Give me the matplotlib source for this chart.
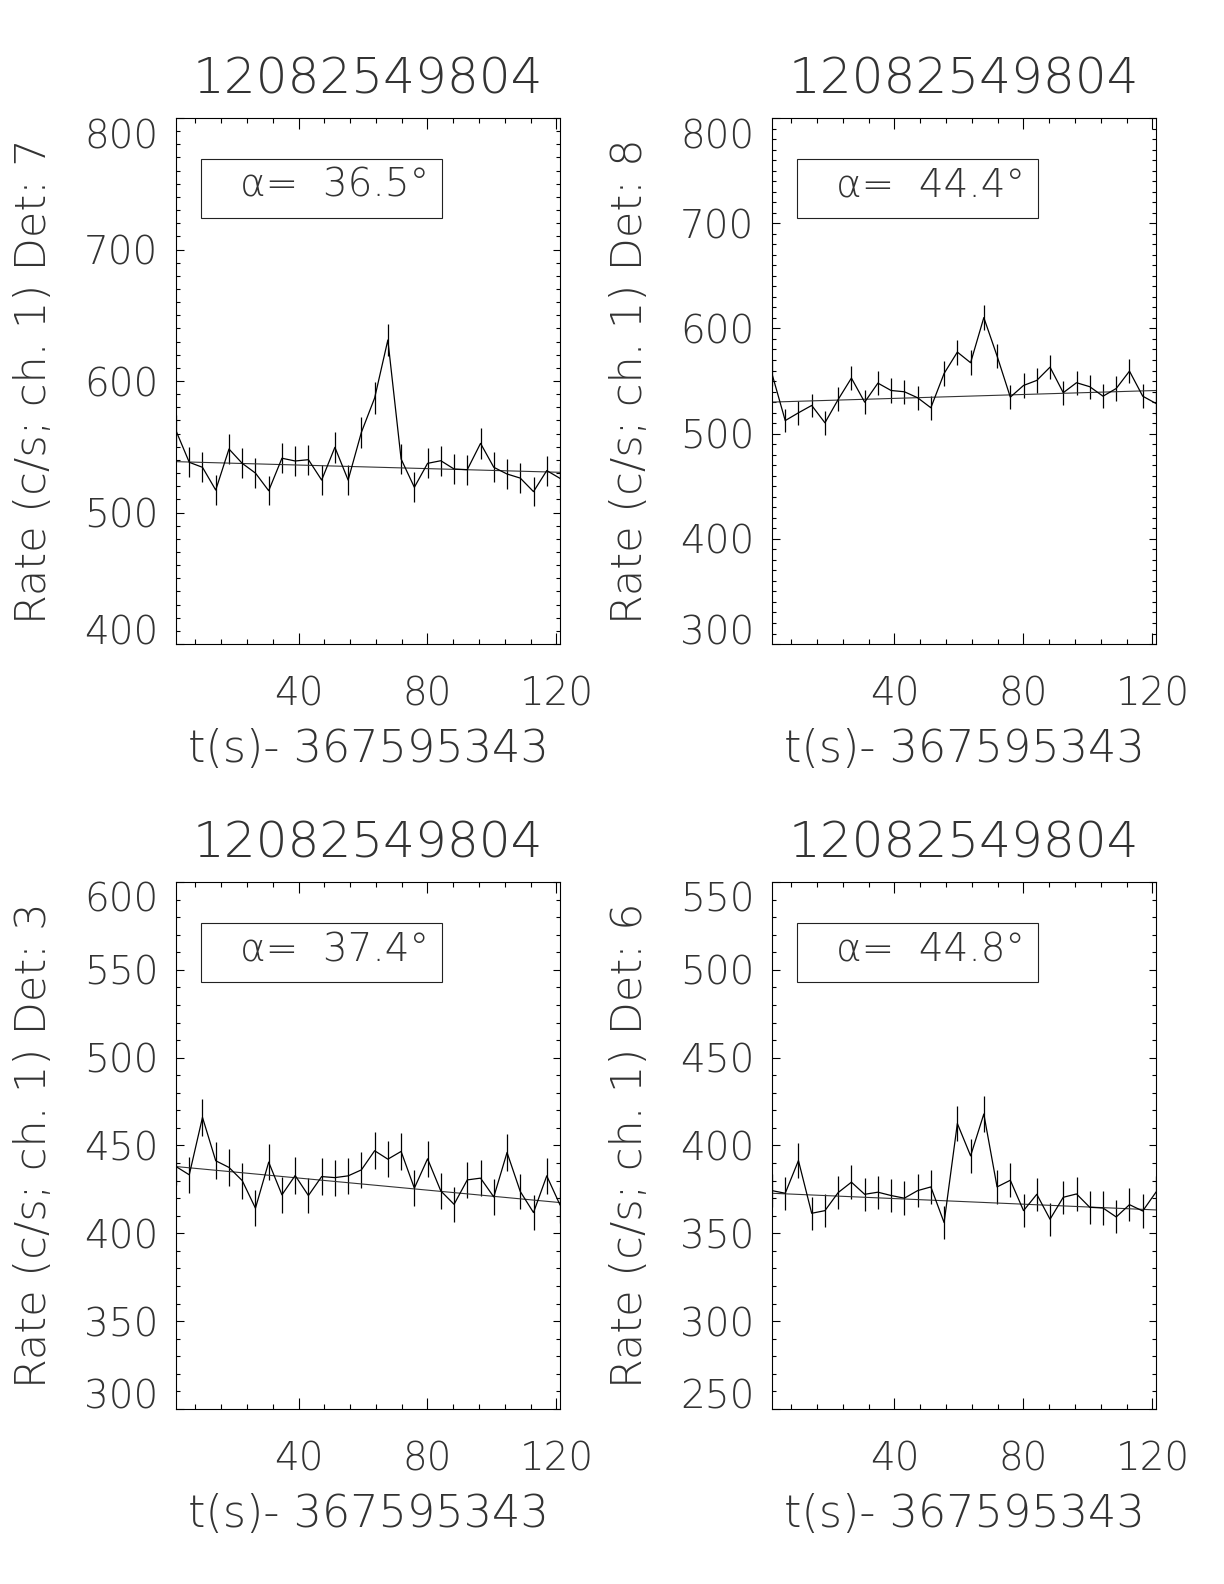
import matplotlib
matplotlib.use("Agg")
import matplotlib.pyplot as plt
from matplotlib.patches import Rectangle
from matplotlib.ticker import MultipleLocator

plt.rcParams['font.family'] = ['DejaVu Sans']
plt.rcParams['font.weight'] = 200
plt.rcParams['axes.titleweight'] = 200
plt.rcParams['axes.labelweight'] = 200
plt.rcParams['text.color'] = '#333333'
plt.rcParams['axes.labelcolor'] = '#333333'
plt.rcParams['xtick.labelcolor'] = '#333333'
plt.rcParams['ytick.labelcolor'] = '#333333'

trigger = "12082549804"
t_offset = "367595343"

# bin times (s) after t_offset, 4.1 s bins
t = [2.0, 6.11, 10.21, 14.32, 18.43, 22.54, 26.64, 30.75, 34.86, 38.96,
     43.07, 47.18, 51.28, 55.39, 59.50, 63.61, 67.71, 71.82, 75.93, 80.03,
     84.14, 88.25, 92.35, 96.46, 100.57, 104.68, 108.78, 112.89, 117.0, 121.1]

# detector 7
det7_rate = [562.2, 538.2, 534.4, 517.1, 548.3, 537.4, 530.0, 516.6, 541.3, 539.2,
             540.2, 524.7, 549.6, 524.7, 561.0, 587.1, 631.2, 540.7, 519.2, 537.4,
             539.4, 533.1, 532.6, 552.6, 534.4, 529.3, 526.2, 515.9, 531.9, 526.0]
det7_err = [11.7, 11.5, 11.4, 11.2, 11.6, 11.4, 11.4, 11.2, 11.5, 11.5,
            11.5, 11.3, 11.6, 11.3, 11.7, 12.0, 12.4, 11.5, 11.3, 11.4,
            11.5, 11.4, 11.4, 11.6, 11.4, 11.4, 11.3, 11.2, 11.4, 11.3]
det7_fit = [538.7, 530.6]

# detector 8
det8_rate = [556.9, 512.4, 519.8, 526.8, 510.3, 532.5, 552.8, 529.9, 548.0, 541.0,
             539.8, 534.1, 524.6, 557.2, 577.5, 567.4, 610.3, 573.8, 534.7, 545.8,
             550.6, 563.2, 538.9, 548.4, 544.6, 535.6, 542.9, 559.4, 535.6, 528.7]
det8_err = [11.7, 11.2, 11.3, 11.3, 11.2, 11.4, 11.6, 11.4, 11.6, 11.5,
            11.5, 11.4, 11.3, 11.7, 11.9, 11.8, 12.2, 11.8, 11.4, 11.5,
            11.6, 11.7, 11.5, 11.6, 11.5, 11.4, 11.5, 11.7, 11.4, 11.4]
det8_fit = [530.0, 541.0]

# detector 3
det3_rate = [438.0, 433.3, 466.0, 441.3, 437.5, 430.0, 414.3, 440.5, 421.9, 432.9,
             421.5, 432.3, 431.7, 432.7, 436.1, 447.0, 442.2, 446.6, 425.7, 442.4,
             424.1, 416.5, 430.4, 431.4, 420.7, 446.0, 423.8, 411.8, 432.7, 416.2]
det3_err = [10.3, 10.3, 10.7, 10.4, 10.3, 10.2, 10.1, 10.4, 10.1, 10.3,
            10.1, 10.3, 10.3, 10.3, 10.3, 10.4, 10.4, 10.4, 10.2, 10.4,
            10.2, 10.1, 10.2, 10.3, 10.1, 10.4, 10.2, 10.0, 10.3, 10.1]
det3_fit = [438.0, 417.5]

# detector 6
det6_rate = [374.3, 372.8, 391.4, 361.4, 362.9, 373.2, 379.1, 372.2, 373.4, 371.5,
             370.0, 374.3, 376.4, 356.1, 412.5, 394.1, 417.9, 376.4, 380.2, 362.9,
             372.2, 358.0, 370.5, 372.4, 364.8, 364.4, 359.3, 366.3, 362.7, 373.4]
det6_err = [9.6, 9.5, 9.8, 9.4, 9.4, 9.5, 9.6, 9.5, 9.5, 9.5,
            9.5, 9.6, 9.6, 9.3, 10.0, 9.8, 10.1, 9.6, 9.6, 9.4,
            9.5, 9.3, 9.5, 9.5, 9.4, 9.4, 9.4, 9.5, 9.4, 9.5]
det6_fit = [372.8, 363.3]

detectors = [7, 8, 3, 6]
angles = [36.5, 44.4, 37.4, 44.8]
y_limits = [(400, 800), (300, 800), (300, 600), (250, 550)]
y_steps = [100, 100, 50, 50]
x_ticks = [40, 80, 120]


def draw_panel(ax, det, angle, rate, err, fit, ylim, ystep):
    """
    Draws one light curve panel with its background fit
    @param ax: matplotlib axes
    @param det: int, detector number
    @param angle: float, angle to source in degrees
    @param rate, err: lists, count rate and its error per bin
    @param fit: list, fit values at first and last bin
    @param ylim: tuple, y range
    @param ystep: int, spacing of labelled y ticks
    @return: None
    """
    ax.errorbar(t, rate, yerr=err, color='black', lw=0.9, elinewidth=0.9, capsize=0)
    ax.plot([t[0], t[-1]], fit, color='#333333', lw=0.8)
    ax.set_xlim(t[0], t[-1])
    ax.set_ylim(*ylim)

    ax.set_xticks(x_ticks)
    ax.xaxis.set_minor_locator(MultipleLocator(8))
    ax.set_yticks(list(range(ylim[0], ylim[1] + 1, ystep)))
    ax.yaxis.set_minor_locator(MultipleLocator(10))
    ax.tick_params(which='both', direction='in', top=True, right=True,
                   width=0.8, labelsize=28)
    ax.tick_params(axis='x', which='major', length=7.6, pad=22.5)
    ax.tick_params(axis='x', which='minor', length=3.8)
    ax.tick_params(axis='y', which='major', length=5.4, pad=12.7)
    ax.tick_params(axis='y', which='minor', length=2.7)
    for s in ax.spines.values():
        s.set_linewidth(0.8)

    # keep end labels inside the axis extent
    labels = ax.get_yticklabels()
    labels[0].set_verticalalignment('baseline')
    labels[-1].set_verticalalignment('top')

    ax.set_title(trigger, fontsize=36, pad=17.6, fontweight=200)
    ax.set_xlabel(f"t(s)- {t_offset}", fontsize=32, fontweight=200)
    ax.xaxis.set_label_coords(0.5, -0.16)
    ax.set_ylabel(f"Rate (c/s; ch. 1) Det: {det}", fontsize=31, fontweight=200)
    ax.yaxis.set_label_coords(-0.318, 0.5)

    ax.add_patch(Rectangle((0.065, 0.81), 0.627, 0.113, transform=ax.transAxes,
                           fill=False, lw=0.8, edgecolor='#222222'))
    ax.text(0.167, 0.85, f"α=  {angle:.1f}°", transform=ax.transAxes,
            fontsize=28, fontweight=200, ha='left', va='baseline')


if __name__ == "__main__":
    fig = plt.figure(figsize=(12.24, 15.84), dpi=100)
    positions = [[0.1438, 0.5934, 0.3137, 0.3321],
                 [0.6307, 0.5934, 0.3137, 0.3321],
                 [0.1438, 0.1105, 0.3137, 0.3327],
                 [0.6307, 0.1105, 0.3137, 0.3327]]
    rates = [det7_rate, det8_rate, det3_rate, det6_rate]
    errs = [det7_err, det8_err, det3_err, det6_err]
    fits = [det7_fit, det8_fit, det3_fit, det6_fit]
    for i in range(4):
        ax = fig.add_axes(positions[i])
        draw_panel(ax, detectors[i], angles[i], rates[i], errs[i], fits[i],
                   y_limits[i], y_steps[i])
    fig.savefig("out.png", dpi=100, facecolor='white')
